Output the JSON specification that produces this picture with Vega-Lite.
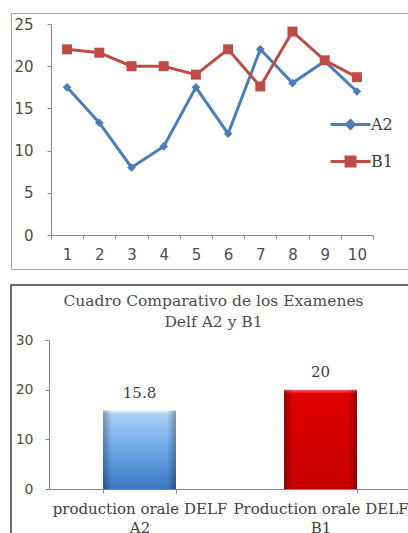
{
  "$schema": "https://vega.github.io/schema/vega-lite/v6.json",
  "background": "white",
  "padding": {"left": 10, "top": 12, "right": -2, "bottom": -7},
  "spacing": 14,
  "config": {
    "axis": {
      "grid": false,
      "title": null,
      "domainColor": "#868686",
      "tickColor": "#868686",
      "labelColor": "#4d4d4d"
    }
  },
  "vconcat": [
    {
      "width": 399,
      "height": 256,
      "view": {"stroke": "#a6a6a6", "strokeWidth": 1},
      "data": {
        "values": [
          {"serie": "A2", "prueba": 1, "nota": 17.5},
          {"serie": "A2", "prueba": 2, "nota": 13.3},
          {"serie": "A2", "prueba": 3, "nota": 8.0},
          {"serie": "A2", "prueba": 4, "nota": 10.5},
          {"serie": "A2", "prueba": 5, "nota": 17.5},
          {"serie": "A2", "prueba": 6, "nota": 12.0},
          {"serie": "A2", "prueba": 7, "nota": 22.0},
          {"serie": "A2", "prueba": 8, "nota": 18.0},
          {"serie": "A2", "prueba": 9, "nota": 20.6},
          {"serie": "A2", "prueba": 10, "nota": 17.0},
          {"serie": "B1", "prueba": 1, "nota": 22.0},
          {"serie": "B1", "prueba": 2, "nota": 21.6},
          {"serie": "B1", "prueba": 3, "nota": 20.0},
          {"serie": "B1", "prueba": 4, "nota": 20.0},
          {"serie": "B1", "prueba": 5, "nota": 19.0},
          {"serie": "B1", "prueba": 6, "nota": 22.0},
          {"serie": "B1", "prueba": 7, "nota": 17.6},
          {"serie": "B1", "prueba": 8, "nota": 24.1},
          {"serie": "B1", "prueba": 9, "nota": 20.7},
          {"serie": "B1", "prueba": 10, "nota": 18.7}
        ]
      },
      "encoding": {
        "x": {
          "field": "prueba",
          "type": "ordinal",
          "bandPosition": 0.5,
          "scale": {"type": "band", "range": [40, 362], "paddingInner": 0, "paddingOuter": 0},
          "axis": {
            "offset": -34,
            "tickBand": "extent",
            "tickSize": 4,
            "labelAngle": 0,
            "labelFont": "DejaVu Sans",
            "labelFontSize": 15,
            "labelPadding": 8
          }
        },
        "y": {
          "field": "nota",
          "type": "quantitative",
          "scale": {"domain": [0, 25], "range": [222, 11], "nice": false},
          "axis": {
            "values": [0, 5, 10, 15, 20, 25],
            "offset": -40,
            "tickSize": 4,
            "labelFont": "DejaVu Sans",
            "labelFontSize": 15,
            "labelPadding": 14
          }
        },
        "color": {
          "field": "serie",
          "type": "nominal",
          "scale": {"domain": ["A2", "B1"], "range": ["#4a7ebb", "#be4b48"]},
          "legend": {
            "orient": "none",
            "legendX": 328,
            "legendY": 100,
            "title": null,
            "padding": 0,
            "symbolSize": 400,
            "symbolStrokeWidth": 3,
            "rowPadding": 15,
            "labelOffset": 9,
            "labelFont": "DejaVu Serif",
            "labelFontSize": 16,
            "labelColor": "#404040",
            "encode": {
              "symbols": {
                "update": {
                  "shape": {"signal": "datum.value === 'A2' ? 'M-2,0H2M0,-0.4L0.4,0L0,0.4L-0.4,0Z' : 'M-2,0H2M-0.45,-0.45H0.45V0.45H-0.45Z'"},
                  "fill": {"signal": "datum.value === 'A2' ? '#4a7ebb' : '#be4b48'"},
                  "stroke": {"signal": "datum.value === 'A2' ? '#4a7ebb' : '#be4b48'"},
                  "strokeWidth": {"value": 3},
                  "opacity": {"value": 1}
                }
              }
            }
          }
        }
      },
      "layer": [
        {"mark": {"type": "line", "strokeWidth": 3}},
        {
          "transform": [{"filter": "datum.serie === 'A2'"}],
          "mark": {"type": "point", "shape": "diamond", "filled": true, "opacity": 1, "size": 75}
        },
        {
          "transform": [{"filter": "datum.serie === 'B1'"}],
          "mark": {"type": "point", "shape": "square", "filled": true, "opacity": 1, "size": 100}
        }
      ]
    },
    {
      "width": 399,
      "height": 258,
      "view": {"stroke": "#3f3f3f", "strokeWidth": 1.5},
      "title": {
        "text": ["Cuadro Comparativo de los Examenes", "Delf A2 y B1"],
        "anchor": "middle",
        "frame": "group",
        "font": "DejaVu Serif",
        "fontSize": 15.5,
        "fontWeight": "normal",
        "color": "#4d4d4d",
        "lineHeight": 21,
        "offset": -45,
        "dx": 3
      },
      "data": {
        "values": [
          {"examen": "production orale DELF A2", "nivel": "A2", "promedio": 15.8},
          {"examen": "Production orale DELF B1", "nivel": "B1", "promedio": 20}
        ]
      },
      "encoding": {
        "x": {
          "field": "examen",
          "type": "nominal",
          "sort": null,
          "scale": {"type": "band", "range": [38, 400], "paddingInner": 0.597, "paddingOuter": 0.2985},
          "axis": {
            "offset": -54,
            "tickBand": "extent",
            "tickSize": 4,
            "labelAngle": 0,
            "labelLimit": 0,
            "labelFont": "DejaVu Serif",
            "labelFontSize": 15,
            "labelLineHeight": 19,
            "labelPadding": 8,
            "labelColor": "#404040",
            "labelExpr": "[slice(datum.label, 0, lastindexof(datum.label, ' ')), slice(datum.label, lastindexof(datum.label, ' ') + 1)]"
          }
        },
        "y": {
          "field": "promedio",
          "type": "quantitative",
          "scale": {"domain": [0, 30], "range": [204, 55], "nice": false},
          "axis": {
            "values": [0, 10, 20, 30],
            "offset": -38,
            "tickSize": 4,
            "labelFont": "DejaVu Sans",
            "labelFontSize": 14,
            "labelPadding": 12
          }
        }
      },
      "layer": [
        {
          "transform": [{"filter": "datum.nivel === 'A2'"}],
          "mark": {
            "type": "bar",
            "color": {
              "gradient": "linear",
              "x1": 0, "y1": 0, "x2": 0, "y2": 1,
              "stops": [
                {"offset": 0, "color": "#e4f2fd"},
                {"offset": 0.05, "color": "#a9d1f7"},
                {"offset": 0.45, "color": "#72acea"},
                {"offset": 1, "color": "#3b76c5"}
              ]
            }
          }
        },
        {
          "transform": [{"filter": "datum.nivel === 'B1'"}],
          "mark": {
            "type": "bar",
            "color": {
              "gradient": "linear",
              "x1": 0, "y1": 0, "x2": 0, "y2": 1,
              "stops": [
                {"offset": 0, "color": "#f26a6a"},
                {"offset": 0.04, "color": "#e00000"},
                {"offset": 1, "color": "#c80000"}
              ]
            }
          }
        },
        {
          "mark": {
            "type": "bar",
            "color": {
              "gradient": "linear",
              "x1": 0, "y1": 0, "x2": 1, "y2": 0,
              "stops": [
                {"offset": 0, "color": "rgba(0,0,0,0.3)"},
                {"offset": 0.12, "color": "rgba(0,0,0,0)"},
                {"offset": 0.88, "color": "rgba(0,0,0,0)"},
                {"offset": 1, "color": "rgba(0,0,0,0.3)"}
              ]
            }
          }
        },
        {
          "mark": {
            "type": "text",
            "baseline": "middle",
            "dy": -18,
            "font": "DejaVu Serif",
            "fontSize": 15,
            "color": "#404040"
          },
          "encoding": {
            "text": {"field": "promedio", "type": "quantitative", "format": ".1~f"}
          }
        }
      ]
    }
  ]
}
